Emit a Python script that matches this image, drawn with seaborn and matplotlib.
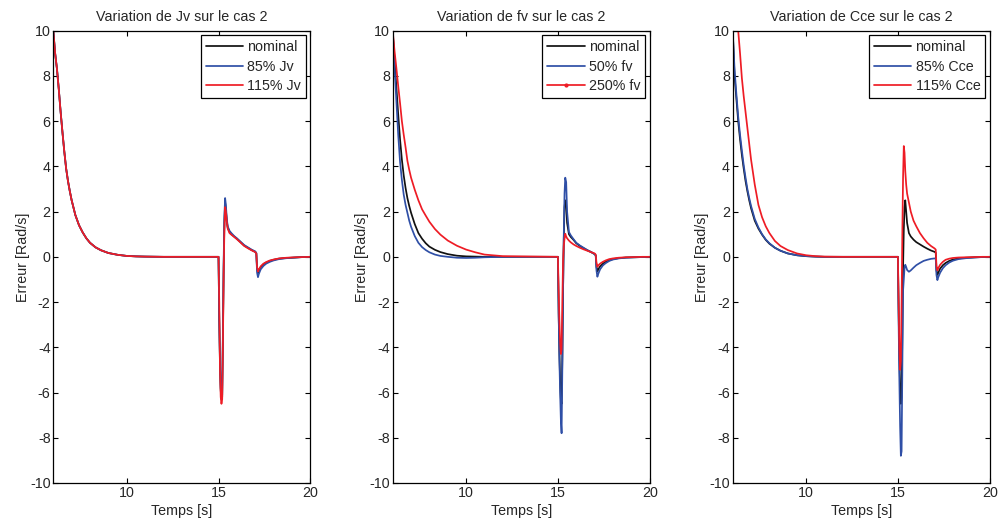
import matplotlib
matplotlib.use("Agg")
import matplotlib.pyplot as plt
from matplotlib.lines import Line2D
import seaborn as sns
import numpy as np
import pandas as pd

# time grid shared by every curve
t_decay = [6.0, 6.1, 6.2, 6.3, 6.4, 6.5, 6.6, 6.7, 6.8, 6.9, 7.0, 7.2, 7.4, 7.6, 7.8,
           8.0, 8.3, 8.6, 9.0, 9.5, 10.0, 10.5, 11.0, 12.0, 15.0]
t_spike = [15.04, 15.08, 15.12, 15.16, 15.2, 15.24, 15.28, 15.32, 15.36, 15.4, 15.45,
           15.5, 15.6, 15.7, 15.85, 16.0, 16.2, 16.4, 16.6, 16.8, 17.0, 17.06, 17.1,
           17.15, 17.2, 17.3, 17.45, 17.6, 17.8, 18.0, 18.3, 18.7, 19.2, 19.6, 20.0]

# --- panel 1 : Jv ---
jv_decay = [10, 9.0, 8.3, 7.4, 6.4, 5.5, 4.65, 3.9, 3.35, 2.9, 2.5, 1.85, 1.4, 1.08, 0.82,
            0.62, 0.42, 0.29, 0.17, 0.09, 0.04, 0.02, 0.01, 0, 0]
jv_nom = [-2.8, -4.8, -5.9, -6.3, -6.2, -3.5, -0.5, 1.5, 2.4, 2.1, 1.6, 1.3, 1.1, 1.0, 0.9,
          0.8, 0.65, 0.5, 0.4, 0.3, 0.22, 0.15, -0.55, -0.7, -0.6, -0.45, -0.33, -0.25,
          -0.18, -0.13, -0.08, -0.05, -0.03, -0.01, 0]
jv_85 = [-2.8, -4.6, -5.8, -6.2, -6.1, -3.3, -0.2, 1.8, 2.6, 2.3, 1.7, 1.35, 1.15, 1.05,
         0.92, 0.82, 0.67, 0.52, 0.42, 0.32, 0.24, 0.17, -0.7, -0.9, -0.75, -0.55, -0.4,
         -0.3, -0.22, -0.16, -0.1, -0.06, -0.03, -0.01, 0]
jv_115 = [-2.0, -5.0, -6.2, -6.5, -6.3, -3.8, -0.8, 1.2, 2.2, 2.0, 1.55, 1.25, 1.05, 0.98,
          0.88, 0.78, 0.63, 0.48, 0.38, 0.29, 0.21, 0.14, -0.45, -0.65, -0.55, -0.42,
          -0.3, -0.23, -0.16, -0.12, -0.07, -0.04, -0.02, -0.01, 0]

# --- panel 2 : fv ---
fv_nom_decay = [10, 8.7, 7.5, 6.3, 5.2, 4.3, 3.6, 3.05, 2.6, 2.25, 1.95, 1.45, 1.05, 0.8,
                0.6, 0.45, 0.31, 0.21, 0.12, 0.05, 0.02, 0.01, 0, 0, 0]
fv_50_decay = [10, 8.4, 6.9, 5.4, 4.2, 3.4, 2.75, 2.3, 1.95, 1.6, 1.33, 0.92, 0.62, 0.43,
               0.3, 0.2, 0.1, 0.04, 0.0, -0.04, -0.05, -0.04, -0.02, 0, 0]
fv_250_decay = [10, 9.1, 8.35, 7.55, 6.8, 6.0, 5.4, 4.85, 4.25, 3.85, 3.5, 2.97, 2.5, 2.1,
                1.82, 1.55, 1.23, 0.98, 0.72, 0.49, 0.32, 0.2, 0.1, 0.03, 0]
fv_nom = [-2.5, -4.2, -5.5, -6.3, -6.5, -4.5, -1.5, 0.8, 2.2, 2.5, 2.3, 1.5, 1.0, 0.88,
          0.75, 0.6, 0.48, 0.38, 0.29, 0.21, 0.12, 0.06, -0.45, -0.65, -0.55, -0.42,
          -0.3, -0.22, -0.15, -0.1, -0.06, -0.03, -0.02, -0.01, 0]
fv_50 = [-2.5, -4.5, -6.0, -7.2, -7.8, -5.0, -1.5, 1.0, 2.8, 3.5, 3.3, 2.0, 1.1, 0.95,
         0.78, 0.62, 0.5, 0.4, 0.3, 0.22, 0.12, 0.05, -0.6, -0.88, -0.75, -0.55, -0.38,
         -0.28, -0.18, -0.12, -0.07, -0.04, -0.02, -0.01, 0]
fv_250 = [-1.5, -2.8, -3.8, -4.3, -4.1, -2.0, -0.2, 0.5, 0.8, 1.02, 0.9, 0.82, 0.72,
          0.64, 0.55, 0.48, 0.4, 0.33, 0.27, 0.21, 0.15, 0.1, -0.25, -0.44, -0.38, -0.3,
          -0.22, -0.16, -0.1, -0.07, -0.04, -0.02, -0.01, 0, 0]

# --- panel 3 : Cce ---
cce_nom_decay = [10, 8.0, 7.0, 6.0, 5.2, 4.5, 3.9, 3.35, 2.9, 2.5, 2.15, 1.6, 1.25, 0.98,
                 0.75, 0.58, 0.4, 0.27, 0.15, 0.07, 0.03, 0.01, 0, 0, 0]
cce_85_decay = [10, 8.3, 7.2, 6.2, 5.4, 4.7, 4.05, 3.5, 3.0, 2.6, 2.25, 1.68, 1.3, 1.0,
                0.77, 0.6, 0.4, 0.27, 0.15, 0.07, 0.03, 0.01, 0, 0, 0]
cce_115_decay = [10, 10, 10, 10, 9.0, 7.9, 7.1, 6.4, 5.7, 5.0, 4.3, 3.2, 2.3, 1.75, 1.35,
                 1.05, 0.7, 0.48, 0.3, 0.15, 0.07, 0.03, 0.01, 0, 0]
cce_nom = [-2.5, -4.5, -5.8, -6.5, -6.2, -3.5, -0.5, 1.2, 2.2, 2.5, 2.0, 1.5, 1.05, 0.9,
           0.76, 0.65, 0.55, 0.45, 0.36, 0.28, 0.22, 0.18, -0.6, -0.8, -0.7, -0.52,
           -0.37, -0.27, -0.18, -0.12, -0.07, -0.04, -0.02, -0.01, 0]
cce_85 = [-3.0, -5.5, -7.5, -8.8, -8.6, -5.0, -1.5, -1.0, -0.5, -0.35, -0.45, -0.58,
          -0.66, -0.6, -0.48, -0.37, -0.27, -0.18, -0.13, -0.09, -0.07, -0.08, -0.8,
          -1.03, -0.9, -0.7, -0.5, -0.37, -0.25, -0.17, -0.1, -0.06, -0.03, -0.01, 0]
cce_115 = [-2.0, -4.0, -5.0, -4.6, -2.0, 1.0, 3.5, 4.9, 4.6, 3.8, 3.2, 2.8, 2.4, 2.0,
           1.6, 1.35, 1.05, 0.82, 0.62, 0.48, 0.37, 0.32, -0.4, -0.6, -0.5, -0.35,
           -0.22, -0.13, -0.08, -0.05, -0.03, -0.02, -0.01, 0, 0]

panels = [
    ("Variation de Jv sur le cas 2", ["nominal", "85% Jv", "115% Jv"],
     [jv_decay + jv_nom, jv_decay + jv_85, jv_decay + jv_115]),
    ("Variation de fv sur le cas 2", ["nominal", "50% fv", "250% fv"],
     [fv_nom_decay + fv_nom, fv_50_decay + fv_50, fv_250_decay + fv_250]),
    ("Variation de Cce sur le cas 2", ["nominal", "85% Cce", "115% Cce"],
     [cce_nom_decay + cce_nom, cce_85_decay + cce_85, cce_115_decay + cce_115]),
]
colors = ["#111111", "#2f4fa6", "#ee1c25"]

sns.set_theme(style="ticks")
plt.rcParams["font.family"] = ["Liberation Sans", "DejaVu Sans"]
plt.rcParams.update({
    "xtick.direction": "in", "ytick.direction": "in",
    "xtick.top": True, "ytick.right": True,
    "axes.edgecolor": "black", "axes.linewidth": 0.9,
    "axes.unicode_minus": False,
    "font.size": 10.3,
})

fig = plt.figure(figsize=(10, 5.29), dpi=100)
lefts = [0.0533, 0.3927, 0.7327]
t_all = t_decay + t_spike

for i, (title, labels, series) in enumerate(panels):
    ax = fig.add_axes([lefts[i], 0.087, 0.257, 0.855])
    df = pd.DataFrame({
        "t": t_all * 3,
        "err": series[0] + series[1] + series[2],
        "serie": np.repeat(labels, len(t_all)),
    })
    sns.lineplot(data=df, x="t", y="err", hue="serie", hue_order=labels,
                 palette=colors, estimator=None, sort=False, linewidth=1.25,
                 ax=ax, legend=False)
    ax.set_xlim(6, 20)
    ax.set_ylim(-10, 10)
    ax.set_xticks([10, 15, 20])
    ax.set_yticks(range(-10, 11, 2))
    ax.tick_params(labelsize=10.3, length=3.5, width=0.8, color="black", pad=2)
    ax.set_title(title, fontsize=10.3, pad=7)
    ax.set_xlabel("Temps [s]", fontsize=10.3, labelpad=3)
    ax.set_ylabel("Erreur [Rad/s]", fontsize=10.3, labelpad=0)
    for s in ax.spines.values():
        s.set_visible(True)
        s.set_color("black")
    handles = []
    for j, lab in enumerate(labels):
        mk = "." if (i == 1 and j == 2) else None
        handles.append(Line2D([], [], color=colors[j], lw=1.25, marker=mk, markersize=4))
    leg = ax.legend(handles, labels, loc="upper right", fontsize=10.3,
                    frameon=True, fancybox=False, framealpha=1, edgecolor="black",
                    borderaxespad=0.3, handlelength=2.6, handletextpad=0.3,
                    labelspacing=0.4, borderpad=0.35)
    leg.get_frame().set_linewidth(0.9)

fig.savefig("out.png", dpi=100)
